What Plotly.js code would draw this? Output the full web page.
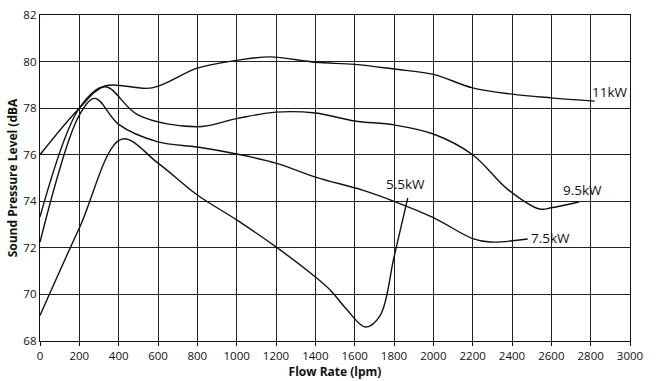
<!DOCTYPE html>
<html>
<head>
<meta charset="utf-8">
<script src="https://cdn.plot.ly/plotly-3.0.1.min.js"></script>
<style>html,body{margin:0;padding:0;background:#fff;}#chart{width:661px;height:381px;}</style>
</head>
<body>
<div id="chart"></div>
<script>
const kw11_x = [0, 200, 330, 570, 800, 1000, 1170, 1400, 1600, 1800, 2000, 2200, 2400, 2600, 2820];
const kw11_y = [76.0, 78.0, 78.95, 78.87, 79.72, 80.05, 80.2, 79.97, 79.88, 79.68, 79.45, 78.87, 78.6, 78.44, 78.3];

const kw95_x = [0, 200, 330, 500, 800, 1000, 1200, 1400, 1600, 1800, 2000, 2200, 2380, 2540, 2600, 2740];
const kw95_y = [73.33, 78.0, 78.92, 77.7, 77.2, 77.55, 77.83, 77.79, 77.45, 77.28, 76.89, 76.0, 74.5, 73.67, 73.72, 73.97];

const kw75_x = [0, 200, 280, 400, 600, 800, 1000, 1200, 1400, 1640, 1800, 2000, 2200, 2290, 2480];
const kw75_y = [72.25, 77.7, 78.42, 77.3, 76.55, 76.33, 76.03, 75.64, 75.04, 74.48, 74.0, 73.3, 72.4, 72.25, 72.38];

const kw55_x = [0, 200, 415, 600, 800, 1000, 1200, 1400, 1480, 1560, 1655, 1730, 1800, 1870];
const kw55_y = [69.1, 72.85, 76.67, 75.64, 74.27, 73.2, 72.04, 70.75, 70.15, 69.35, 68.6, 69.1, 71.6, 74.15];

const labels = ["11kW", "9.5kW", "7.5kW", "5.5kW"];
const label_x = [2900, 2756, 2598, 1856];
const label_y = [78.7, 74.48, 72.42, 74.74];

const xTicks = [0,200,400,600,800,1000,1200,1400,1600,1800,2000,2200,2400,2600,2800,3000];
const yTicks = [68,70,72,74,76,78,80,82];

const lineStyle = {color:'#111', width:1.4, shape:'spline', smoothing:1};
function tr(x,y){return {x:x,y:y,mode:'lines',line:lineStyle,hoverinfo:'skip',showlegend:false,type:'scatter'};}

const data = [tr(kw11_x,kw11_y), tr(kw95_x,kw95_y), tr(kw75_x,kw75_y), tr(kw55_x,kw55_y)];

const fam = 'Open Sans, Lato, sans-serif';
const annotations = labels.map((t,i)=>({x:label_x[i], y:label_y[i], text:t, showarrow:false,
  font:{family:fam, size:13.5, color:'#111'}, xanchor:'center', yanchor:'middle'}));

const layout = {
  width:661, height:381,
  margin:{l:40, r:31, t:15, b:40},
  paper_bgcolor:'#fff', plot_bgcolor:'#fff',
  font:{family:fam, color:'#111'},
  xaxis:{range:[0,3000], tickvals:xTicks, ticktext:xTicks.map(String), showgrid:true, gridcolor:'#222', gridwidth:1,
    zeroline:false, showline:true, linecolor:'#111', linewidth:1.2, mirror:true,
    ticks:'outside', ticklen:4, tickcolor:'#111', tickfont:{size:11.5, color:'#111'},
    title:{text:'<b>Flow Rate (lpm)</b>', font:{size:12, color:'#111'}, standoff:3}},
  yaxis:{range:[68,82], tickvals:yTicks, ticktext:yTicks.map(String), showgrid:true, gridcolor:'#222', gridwidth:1,
    zeroline:false, showline:true, linecolor:'#111', linewidth:1.2, mirror:true,
    ticks:'', tickfont:{size:11.5, color:'#111'},
    title:{text:'<b>Sound Pressure Level (dBA</b>', font:{size:12, color:'#111'}, standoff:3}},
  annotations:annotations
};
Plotly.newPlot('chart', data, layout, {displayModeBar:false, staticPlot:true});
</script>
</body>
</html>
